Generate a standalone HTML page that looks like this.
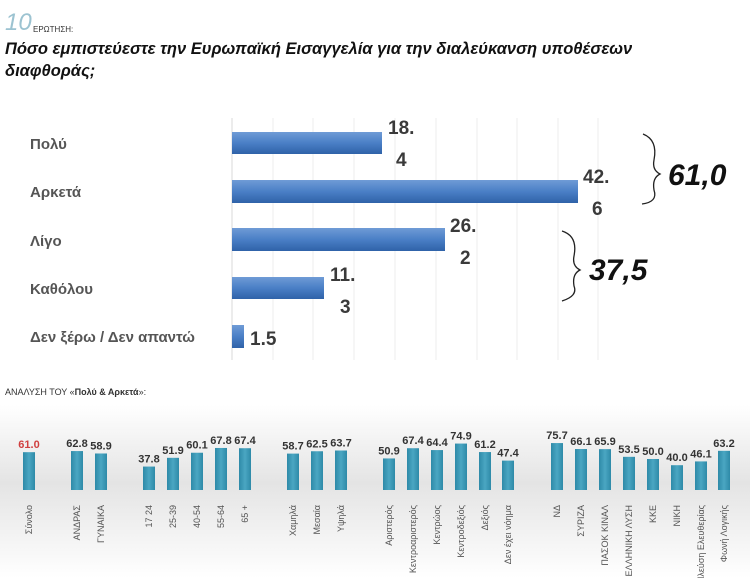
<!DOCTYPE html>
<html><head><meta charset="utf-8"><style>
body{margin:0;width:750px;height:578px;background:#fff;overflow:hidden;font-family:"Liberation Sans","DejaVu Sans",sans-serif}
</style></head><body>
<svg width="750" height="578" xmlns="http://www.w3.org/2000/svg" font-family="Liberation Sans, DejaVu Sans, sans-serif">
<defs>
<linearGradient id="hb" x1="0" y1="0" x2="0" y2="1"><stop offset="0" stop-color="#6f9bd6"/><stop offset="0.5" stop-color="#4a7fc6"/><stop offset="1" stop-color="#2f62a8"/></linearGradient>
<linearGradient id="bg" x1="0" y1="0" x2="0" y2="1"><stop offset="0" stop-color="#fff"/><stop offset="0.45" stop-color="#e4e4e4"/><stop offset="1" stop-color="#fff"/></linearGradient>
<linearGradient id="vb" x1="0" y1="0" x2="1" y2="0"><stop offset="0" stop-color="#2e8aa8"/><stop offset="0.5" stop-color="#4aa6c2"/><stop offset="1" stop-color="#2e8aa8"/></linearGradient>
</defs>
<text x="5" y="30" font-size="24" font-style="italic" fill="#9cc3d1">10</text>
<text x="33" y="32" font-size="8" fill="#333">ΕΡΩΤΗΣΗ:</text>
<text x="5" y="54" font-size="16.5" font-weight="bold" font-style="italic" fill="#111">Πόσο εμπιστεύεστε την Ευρωπαϊκή Εισαγγελία για την διαλεύκανση υποθέσεων</text>
<text x="5" y="76" font-size="16.5" font-weight="bold" font-style="italic" fill="#111">διαφθοράς;</text>
<g stroke="#ececec" stroke-width="1">
<line x1="273" y1="118" x2="273" y2="360"/><line x1="313" y1="118" x2="313" y2="360"/><line x1="354" y1="118" x2="354" y2="360"/><line x1="395" y1="118" x2="395" y2="360"/><line x1="436" y1="118" x2="436" y2="360"/><line x1="477" y1="118" x2="477" y2="360"/><line x1="517" y1="118" x2="517" y2="360"/><line x1="558" y1="118" x2="558" y2="360"/><line x1="598" y1="118" x2="598" y2="360"/>
</g>
<line x1="232" y1="118" x2="232" y2="360" stroke="#d8d8d8"/>
<rect x="232" y="132" width="150" height="22" fill="url(#hb)"/>
<rect x="232" y="180" width="346" height="23" fill="url(#hb)"/>
<rect x="232" y="228" width="213" height="23" fill="url(#hb)"/>
<rect x="232" y="277" width="92" height="22" fill="url(#hb)"/>
<rect x="232" y="325" width="12" height="23" fill="url(#hb)"/>
<g font-size="15" font-weight="bold" fill="#555">
<text x="30" y="149">Πολύ</text><text x="30" y="197">Αρκετά</text><text x="30" y="246">Λίγο</text><text x="30" y="294">Καθόλου</text><text x="30" y="342">Δεν ξέρω / Δεν απαντώ</text>
</g>
<g font-size="19" font-weight="bold" fill="#3a3a3a">
<text x="388" y="134">18.</text><text x="396" y="166">4</text>
<text x="583" y="183">42.</text><text x="592" y="215">6</text>
<text x="450" y="232">26.</text><text x="460" y="264">2</text>
<text x="330" y="281">11.</text><text x="340" y="313">3</text>
<text x="250" y="345">1.5</text>
</g>
<path d="M643 134 Q658 140 654 160 Q652 170 660 174 Q652 178 654 190 Q658 202 642 204" fill="none" stroke="#222" stroke-width="1.3"/>
<path d="M562 231 Q578 236 574 256 Q572 266 580 270 Q572 274 574 286 Q578 296 562 301" fill="none" stroke="#222" stroke-width="1.3"/>
<text x="668" y="185" font-size="30" font-weight="bold" font-style="italic" fill="#111">61,0</text>
<text x="589" y="280" font-size="30" font-weight="bold" font-style="italic" fill="#111">37,5</text>
<text x="5" y="395" font-size="9" fill="#333">ΑΝΑΛΥΣΗ ΤΟΥ «<tspan font-weight="bold">Πολύ &amp; Αρκετά</tspan>»:</text>
<rect x="0" y="405" width="750" height="173" fill="url(#bg)"/>
<g font-size="11" font-weight="bold" fill="#333" text-anchor="middle" id="bars"></g>
<g id="lbls" font-size="9" fill="#555"></g>
</svg>
<script>
var d=[["Σύνολο",29,61.0],["ΑΝΔΡΑΣ",77,62.8],["ΓΥΝΑΙΚΑ",101,58.9],["17 24",149,37.8],["25-39",173,51.9],["40-54",197,60.1],["55-64",221,67.8],["65 +",245,67.4],["Χαμηλά",293,58.7],["Μεσαία",317,62.5],["Υψηλά",341,63.7],["Αριστερός",389,50.9],["Κεντροαριστερός",413,67.4],["Κεντρώος",437,64.4],["Κεντροδεξιός",461,74.9],["Δεξιός",485,61.2],["Δεν έχει νόημα",508,47.4],["ΝΔ",557,75.7],["ΣΥΡΙΖΑ",581,66.1],["ΠΑΣΟΚ ΚΙΝΑΛ",605,65.9],["ΕΛΛΗΝΙΚΗ ΛΥΣΗ",629,53.5],["ΚΚΕ",653,50.0],["ΝΙΚΗ",677,40.0],["Πλεύση Ελευθερίας",701,46.1],["Φωνή Λογικής",724,63.2]];
var ns="http://www.w3.org/2000/svg",b=document.getElementById("bars"),l=document.getElementById("lbls");
d.forEach(function(e,i){var h=e[2]*0.62,y=490-h;
var r=document.createElementNS(ns,"rect");r.setAttribute("x",e[1]-6);r.setAttribute("y",y);r.setAttribute("width",12);r.setAttribute("height",h);r.setAttribute("fill","url(#vb)");b.appendChild(r);
var t=document.createElementNS(ns,"text");t.setAttribute("x",e[1]);t.setAttribute("y",y-4);t.textContent=e[2].toFixed(1);if(i==0)t.setAttribute("fill","#d04040");b.appendChild(t);
var s=document.createElementNS(ns,"text");s.setAttribute("transform","translate("+(e[1]+3)+",505) rotate(-90)");s.setAttribute("text-anchor","end");s.textContent=e[0];l.appendChild(s);});
</script>
</body></html>
